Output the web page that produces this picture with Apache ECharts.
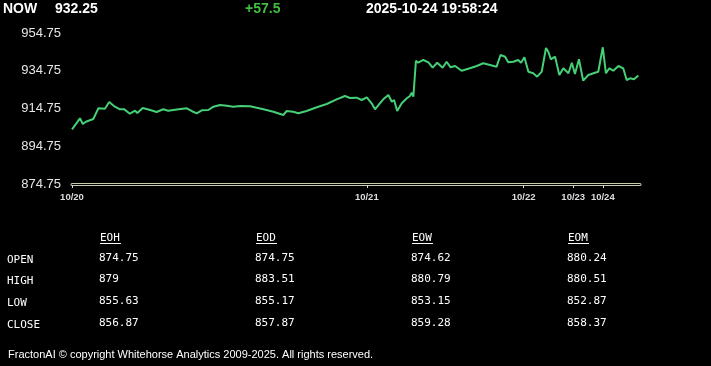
<!DOCTYPE html>
<html>
<head>
<meta charset="utf-8">
<script src="https://cdn.jsdelivr.net/npm/echarts@6/dist/echarts.min.js"></script>
<style>
html,body{margin:0;padding:0;background:#000;}
#chart{width:711px;height:366px;}
</style>
</head>
<body>
<div id="chart"></div>
<script>
// ---- data ----
const sampleIndex = [0,2.8,3.8,4.9,7.5,9.3,11.6,13.1,15.1,16.9,18.3,20.4,22.2,23.0,24.9,27.5,29.8,32.1,33.9,36.9,
  40.4,42.1,43.9,45.7,48.0,49.8,52.1,54.5,56.8,59.2,62.7,67.4,70.9,74.4,75.6,77.9,79.7,82.6,86.2,89.7,
  93.2,96.1,97.9,100.2,102.0,103.8,105.5,106.7,107.9,109.6,111.4,112.6,113.4,114.5,116.1,117.9,119.0,119.6,120.2,121.1,
  121.9,123.7,125.5,127.0,128.6,130.5,131.9,133.3,134.9,137.2,140.1,142.5,144.8,147.2,149.5,150.9,152.5,153.6,155.4,157.1,
  158.1,159.3,160.7,162.4,163.8,165.4,166.9,167.7,168.6,170.1,171.6,173.0,174.8,176.0,177.1,178.5,180.0,181.8,183.6,185.3,
  186.9,188.0,189.2,190.6,192.4,194.1,195.3,196.5,197.9,199.4];
const prices = [903.73,909.56,906.54,907.76,909.19,914.86,914.64,918.19,915.70,914.33,914.40,912.00,913.58,912.37,915.01,913.96,912.90,914.33,913.58,914.20,
  914.86,913.43,912.21,913.80,913.96,915.70,916.60,916.23,915.70,916.07,915.90,914.33,913.06,911.31,913.43,913.06,912.21,913.43,915.39,917.13,
  919.62,921.37,920.31,920.47,919.25,920.68,917.51,914.33,916.60,919.62,921.90,918.35,919.25,913.43,917.51,920.15,921.37,923.12,921.00,940.07,
  939.01,940.45,939.23,936.37,939.01,936.37,939.54,936.58,937.27,934.78,936.05,937.27,938.70,937.80,936.90,943.09,942.19,939.23,939.54,940.45,
  939.01,941.88,934.25,933.40,931.60,934.25,946.80,944.84,940.82,942.19,932.50,936.05,933.40,939.01,933.03,940.82,929.48,932.50,933.40,934.25,
  947.17,933.40,936.05,934.78,937.27,936.05,929.85,930.75,930.22,932.25];
const xTickPositions = [0,103.8,159.0,176.5,186.9];
const xTickLabels = ['10/20','10/21','10/22','10/23','10/24'];
const yTicks = [874.75,894.75,914.75,934.75,954.75];

const headerNow = 'NOW';
const headerPrice = '932.25';
const headerChange = '+57.5';
const headerTime = '2025-10-24 19:58:24';

const tableColumns = ['EOH','EOD','EOW','EOM'];
const tableRows = ['OPEN','HIGH','LOW','CLOSE'];
const eohValues = ['874.75','879','855.63','856.87'];
const eodValues = ['874.75','883.51','855.17','857.87'];
const eowValues = ['874.62','880.79','853.15','859.28'];
const eomValues = ['880.24','880.51','852.87','858.37'];
const footerText = 'FractonAI \u00A9 copyright Whitehorse Analytics 2009-2025. All rights reserved.';

// ---- build ----
const chart = echarts.init(document.getElementById('chart'), null, {renderer:'canvas'});
const seriesData = sampleIndex.map((t,i)=>[t, prices[i]]);
const labelMap = {};
xTickPositions.forEach((p,i)=>{ labelMap[p.toFixed(1)] = xTickLabels[i]; });

const sansBold = 'bold 14px "Liberation Sans", Arial, sans-serif';
const mono = '11px "DejaVu Sans Mono", "Liberation Mono", monospace';
const graphics = [];
graphics.push({type:'text', x:3, y:9, style:{text:headerNow, fill:'#fff', font:sansBold, verticalAlign:'middle'}});
graphics.push({type:'text', x:55, y:9, style:{text:headerPrice, fill:'#fff', font:sansBold, verticalAlign:'middle'}});
graphics.push({type:'text', x:245, y:9, style:{text:headerChange, fill:'#3fbf3f', font:sansBold, verticalAlign:'middle'}});
graphics.push({type:'text', x:366, y:9, style:{text:headerTime, fill:'#fff', font:sansBold, verticalAlign:'middle'}});

const colX = [99, 255, 411, 567];
const rowY = [259, 280.5, 302, 324.5];
const colValues = [eohValues, eodValues, eowValues, eomValues];
tableColumns.forEach((c,i)=>{
  graphics.push({type:'text', x:colX[i]+1, y:238, style:{text:c, fill:'#fff', font:mono, verticalAlign:'middle'}});
  graphics.push({type:'line', shape:{x1:colX[i]+1, y1:243.5, x2:colX[i]+22, y2:243.5}, style:{stroke:'#fff', lineWidth:1}});
  colValues[i].forEach((v,j)=>{
    graphics.push({type:'text', x:colX[i], y:rowY[j]-1, style:{text:v, fill:'#fff', font:mono, verticalAlign:'middle'}});
  });
});
tableRows.forEach((r,j)=>{
  graphics.push({type:'text', x:7, y:rowY[j]+1, style:{text:r, fill:'#fff', font:mono, verticalAlign:'middle'}});
});
graphics.push({type:'text', x:8, y:355, style:{text:footerText, fill:'#fff', font:'11px "Liberation Sans", Arial, sans-serif', verticalAlign:'middle'}});

const option = {
  backgroundColor:'#000',
  animation:false,
  grid:{left:72, right:71, top:33, bottom:182, containLabel:false},
  xAxis:[{
    type:'value', min:0, max:200,
    splitLine:{show:false},
    axisLine:{show:true, lineStyle:{color:'#c9c9a8', width:3}},
    axisTick:{show:true, customValues:xTickPositions, length:4, lineStyle:{color:'#ddd', width:1}},
    axisLabel:{show:true, customValues:xTickPositions, margin:8, color:'#ddd', fontSize:9.5, fontWeight:'bold',
      fontFamily:'"Liberation Sans", Arial, sans-serif',
      formatter:(v)=> labelMap[Number(v).toFixed(1)] || ''}
  },{
    type:'value', min:0, max:200, position:'bottom', z:5,
    splitLine:{show:false},
    axisLine:{show:true, lineStyle:{color:'#000', width:1}},
    axisTick:{show:false}, axisLabel:{show:false}
  }],
  yAxis:{
    type:'value', min:yTicks[0], max:yTicks[yTicks.length-1],
    splitLine:{show:false},
    axisLine:{show:false}, axisTick:{show:false},
    axisLabel:{customValues:yTicks, color:'#e6e6e6', fontSize:13, margin:11,
      fontFamily:'"Liberation Sans", Arial, sans-serif',
      formatter:(v)=>Number(v).toFixed(2)}
  },
  series:[{
    type:'line', data:seriesData, showSymbol:false, symbol:'none',
    lineStyle:{color:'#45cf76', width:2}, smooth:false, z:3
  }],
  graphic:graphics
};
chart.setOption(option);
</script>
</body>
</html>
